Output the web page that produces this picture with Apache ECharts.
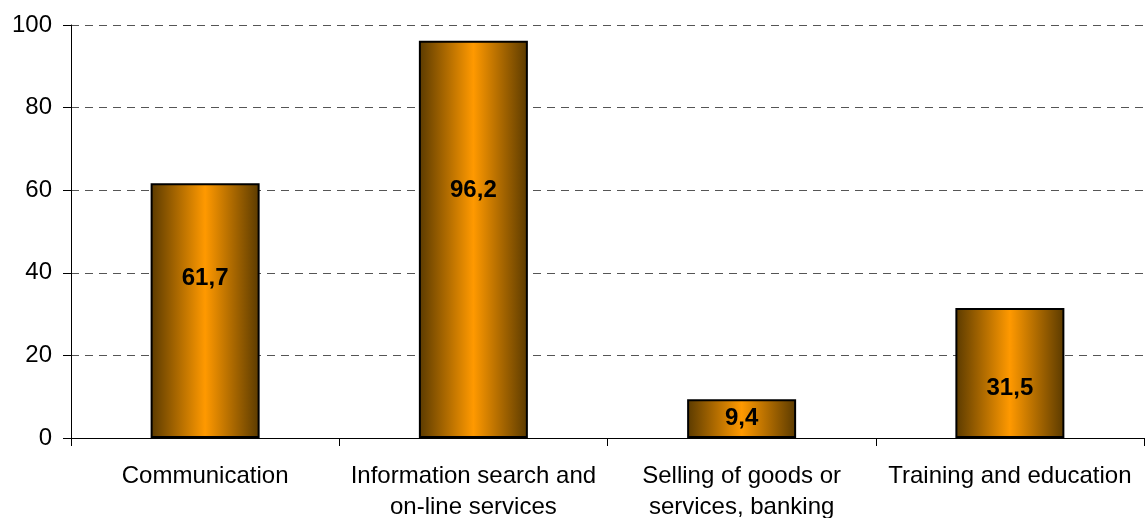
<!DOCTYPE html>
<html>
<head>
<meta charset="utf-8">
<script src="https://cdn.jsdelivr.net/npm/echarts@6/dist/echarts.min.js"></script>
<style>
  html, body { margin: 0; padding: 0; background: #fff; }
  #chart { width: 1145px; height: 518px; }
</style>
</head>
<body>
<div id="chart"></div>
<script>
// Internet activities, share of users (%)
const categories = [
  'Communication',
  'Information search and\non-line services',
  'Selling of goods or\nservices, banking',
  'Training and education'
];
const values = [61.7, 96.2, 9.4, 31.5];
const yTicks = [0, 20, 40, 60, 80, 100];

// vertical nudges for the value labels, in pixels
const labelNudge = [-32, -49, 0, 15];

const barFill = new echarts.graphic.LinearGradient(0, 0, 1, 0, [
  { offset: 0, color: '#5a3a00' },
  { offset: 0.5, color: '#ff9900' },
  { offset: 1, color: '#5a3a00' }
]);

const font = 'Liberation Sans, Arial, sans-serif';

const chart = echarts.init(document.getElementById('chart'), null, { renderer: 'canvas' });
chart.setOption({
  animation: false,
  grid: { left: 71, right: 1, top: 25, bottom: 80, containLabel: false, outerBoundsMode: 'none' },
  xAxis: {
    type: 'category',
    data: categories,
    boundaryGap: true,
    axisLine: { lineStyle: { color: '#000', width: 1 } },
    axisTick: { show: true, length: 8, alignWithLabel: false, lineStyle: { color: '#000' } },
    axisLabel: {
      color: '#000',
      fontFamily: font,
      fontSize: 24,
      lineHeight: 31,
      margin: 23,
      interval: 0
    }
  },
  yAxis: {
    type: 'value',
    min: yTicks[0],
    max: yTicks[yTicks.length - 1],
    interval: yTicks[1] - yTicks[0],
    axisLine: { show: true, lineStyle: { color: '#000', width: 1 } },
    axisTick: { show: true, length: 8, lineStyle: { color: '#000' } },
    axisLabel: {
      color: '#000',
      fontFamily: font,
      fontSize: 24,
      margin: 19
    },
    splitLine: {
      show: true,
      lineStyle: { color: '#555', width: 1, type: [8, 6] }
    }
  },
  series: [{
    type: 'bar',
    barWidth: 109,
    data: values.map((v, i) => ({
      value: v,
      label: { offset: [0, labelNudge[i]] }
    })),
    itemStyle: {
      color: barFill,
      borderColor: '#000',
      borderWidth: 2
    },
    label: {
      show: true,
      position: 'inside',
      color: '#000',
      fontFamily: font,
      fontWeight: 'bold',
      fontSize: 24,
      formatter: p => String(p.value).replace('.', ',')
    }
  }]
});
</script>
</body>
</html>
